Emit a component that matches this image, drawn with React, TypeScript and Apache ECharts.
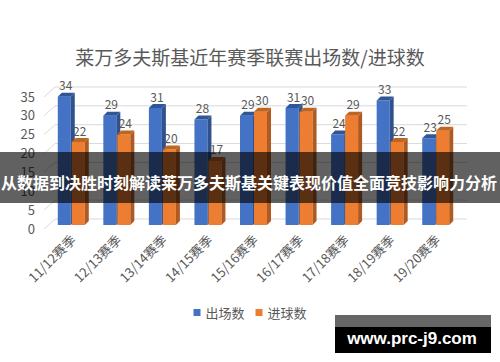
import React, { useEffect, useRef } from "react";
import * as echarts from "echarts";

const categories = ["11/12赛季", "12/13赛季", "13/14赛季", "14/15赛季", "15/16赛季", "16/17赛季", "17/18赛季", "18/19赛季", "19/20赛季"];
const appearances = [34, 29, 31, 28, 29, 31, 24, 33, 23];
const goals = [22, 24, 20, 17, 30, 30, 29, 22, 25];
const yTicks = [0, 5, 10, 15, 20, 25, 30, 35];

const FONT = "'Noto Sans CJK SC', 'Noto Sans', sans-serif";
const TEXT = "#595959";

function barSeries(name: string, values: number[], offset: number, front: string, side: string, topc: string) {
  return {
    name,
    type: "custom",
    z: 5,
    itemStyle: { color: front },
    encode: { x: 0, y: 1 },
    data: values.map((v, i) => [i, v]),
    renderItem: (params: any, api: any) => {
      const i = api.value(0);
      const v = api.value(1);
      const base = api.coord([i, 0]);
      const top = api.coord([i, v]);
      const cx = base[0];
      const yb = base[1] - 3;
      const yt = top[1] - 3;
      const w = 13;
      const d = 4;
      const xl = cx + offset;
      const xr = xl + w;
      return {
        type: "group",
        children: [
          { type: "rect", shape: { x: xl, y: yt, width: w, height: yb - yt }, style: { fill: front } },
          { type: "polygon", shape: { points: [[xr, yb], [xr + d, yb - d], [xr + d, yt - d], [xr, yt]] }, style: { fill: side } },
          { type: "polygon", shape: { points: [[xl, yt], [xl + d, yt - d], [xr + d, yt - d], [xr, yt]] }, style: { fill: topc } },
          {
            type: "text",
            style: {
              text: String(v),
              x: xl + 8,
              y: yt - 12,
              align: "center",
              verticalAlign: "middle",
              textAlign: "center",
              textVerticalAlign: "middle",
              fill: TEXT,
              fontSize: 12,
              fontFamily: FONT,
            },
          },
        ],
      };
    },
  };
}

export default function App() {
  const ref = useRef<HTMLDivElement>(null);
  useEffect(() => {
    if (!ref.current) return;
    const chart = echarts.init(ref.current, undefined, { renderer: "svg" });
    chart.setOption({
      animation: false,
      backgroundColor: "#ffffff",
      title: {
        text: "莱万多夫斯基近年赛季联赛出场数/进球数",
        left: "center",
        top: 42,
        textStyle: { fontSize: 19, color: TEXT, fontWeight: "normal", fontFamily: FONT },
      },
      legend: {
        data: ["出场数", "进球数"],
        left: "center",
        top: 301,
        icon: "rect",
        itemWidth: 7,
        itemHeight: 7,
        itemGap: 11,
        textStyle: { fontSize: 13, color: TEXT, fontFamily: FONT },
      },
      grid: { left: 50, right: 40, top: 96, bottom: 134, containLabel: false },
      xAxis: {
        type: "category",
        data: categories,
        axisLine: { show: false },
        axisTick: { show: false },
        axisLabel: { rotate: 45, margin: 9, color: TEXT, fontSize: 13, fontFamily: FONT, interval: 0 },
      },
      yAxis: {
        type: "value",
        min: 0,
        max: 35,
        interval: 5,
        axisLine: { show: false },
        axisTick: { show: false },
        splitLine: { show: false },
        axisLabel: { margin: 15, color: TEXT, fontSize: 13, fontFamily: FONT },
      },
      series: [
        {
          name: "grid3d",
          type: "custom",
          z: 1,
          silent: true,
          encode: { x: 0, y: 1 },
          data: yTicks.map((t) => [0, t]),
          renderItem: (params: any, api: any) => {
            const cs = params.coordSys;
            const y = api.coord([0, api.value(1)])[1];
            return {
              type: "polyline",
              shape: { points: [[cs.x - 6, y + 1], [cs.x + 5, y - 9], [cs.x + cs.width + 7, y - 9]] },
              style: { stroke: "#d9d9d9", lineWidth: 1, fill: "none" },
            };
          },
        },
        barSeries("出场数", appearances, -15, "#4472c4", "#2f528f", "#30569a"),
        barSeries("进球数", goals, -1, "#ed7d31", "#ae5a21", "#c0651f"),
      ],
      graphic: [
        { type: "rect", z: 100, shape: { x: 0, y: 152, width: 500, height: 51 }, style: { fill: "rgba(0,0,0,0.62)" } },
        {
          type: "text",
          z: 101,
          style: {
            text: "从数据到决胜时刻解读莱万多夫斯基关键表现价值全面竞技影响力分析",
            x: 249,
            y: 182,
            align: "center",
            verticalAlign: "middle",
            textAlign: "center",
            textVerticalAlign: "middle",
            fill: "#ffffff",
            fontSize: 16,
            fontWeight: "bold",
            fontFamily: FONT,
          },
        },
        { type: "rect", z: 100, shape: { x: 335, y: 315, width: 156, height: 12 }, style: { fill: "#666666" } },
        { type: "rect", z: 100, shape: { x: 335, y: 327, width: 156, height: 26 }, style: { fill: "#000000" } },
        {
          type: "text",
          z: 101,
          style: {
            text: "www.prc-j9.com",
            x: 412,
            y: 338,
            align: "center",
            verticalAlign: "middle",
            textAlign: "center",
            textVerticalAlign: "middle",
            fill: "#ffffff",
            fontSize: 17,
            fontWeight: "bold",
            fontFamily: "'Liberation Sans', Arial, sans-serif",
          },
        },
      ],
    });
    return () => chart.dispose();
  }, []);
  return <div ref={ref} style={{ width: 500, height: 362, position: "absolute", left: 0, top: 0 }} />;
}
